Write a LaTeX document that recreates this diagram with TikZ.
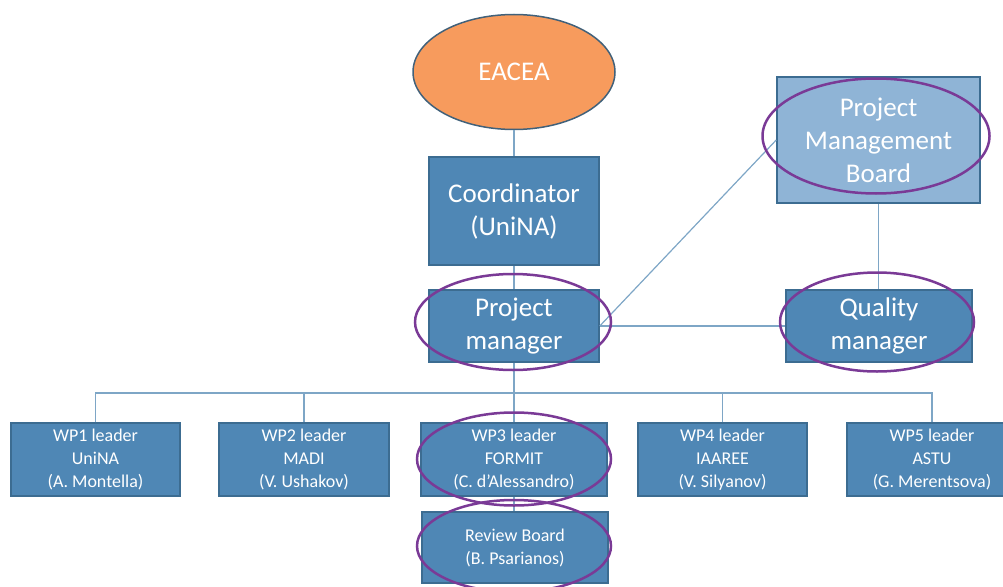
\documentclass[tikz,border=0pt]{standalone}
\usepackage{fontspec}
\setmainfont{Carlito}
\usetikzlibrary{shapes.geometric}
\definecolor{boxfill}{HTML}{4F87B5}
\definecolor{boxedge}{HTML}{3C6C91}
\definecolor{lightfill}{HTML}{8FB4D6}
\definecolor{orangefill}{HTML}{F79B5D}
\definecolor{ovaledge}{HTML}{41617A}
\definecolor{linkcol}{HTML}{7EA6C6}
\definecolor{ringcol}{HTML}{7A3A96}
\begin{document}
\begin{tikzpicture}[x=1pt,y=-1pt,
  bigtext/.style={font=\fontsize{27}{33}\selectfont},
  smalltext/.style={font=\fontsize{18}{23}\selectfont},
  unit/.style={rectangle,draw=boxedge,line width=1.5pt,fill=boxfill,text=white,
    align=center,inner sep=0pt},
  agency/.style={ellipse,draw=ovaledge,line width=1.5pt,fill=orangefill,text=white,
    inner sep=0pt,minimum width=202pt,minimum height=115pt},
  ring/.style={ellipse,draw=ringcol,line width=2.5pt,inner sep=0pt},
  link/.style={draw=linkcol,line width=1.2pt}]
\useasboundingbox (0,0) rectangle (1003,586);

% top of the hierarchy
\node[agency,bigtext] (eacea) at (514,72) {EACEA};
\node[unit,bigtext,minimum width=170pt,minimum height=108pt] (coord) at (514,211) {Coordinator\\(UniNA)};
\node[unit,bigtext,minimum width=170pt,minimum height=72pt] (pm) at (514,326) {Project\\manager};
\node[unit,bigtext,fill=lightfill,minimum width=203pt,minimum height=126pt] (pmb) at (878.5,140) {Project\\Management\\Board};
\node[unit,bigtext,minimum width=186pt,minimum height=72pt] (qm) at (879,326) {Quality\\manager};

% work package leaders
\node[unit,smalltext,minimum width=169pt,minimum height=73pt] (wp1) at (95.5,459.5) {WP1 leader\\UniNA\\(A. Montella)};
\node[unit,smalltext,minimum width=170pt,minimum height=73pt] (wp2) at (304,459.5) {WP2 leader\\MADI\\(V. Ushakov)};
\node[unit,smalltext,minimum width=186pt,minimum height=73pt] (wp3) at (514,459.5) {WP3 leader\\FORMIT\\(C. d’Alessandro)};
\node[unit,smalltext,minimum width=169pt,minimum height=73pt] (wp4) at (722.5,459.5) {WP4 leader\\IAAREE\\(V. Silyanov)};
\node[unit,smalltext,minimum width=170pt,minimum height=73pt] (wp5) at (932,459.5) {WP5 leader\\ASTU\\(G. Merentsova)};
\node[unit,smalltext,minimum width=186pt,minimum height=71pt] (rb) at (515,547.5) {Review Board\\(B. Psarianos)};

% connectors
\coordinate (bus) at (514,393);
\draw[link] (eacea.south) -- (coord.north);
\draw[link] (coord.south) -- (pm.north);
\draw[link] (pm.south) -- (bus);
\draw[link] (wp1.north) |- (bus);
\draw[link] (wp2.north) |- (bus);
\draw[link] (wp4.north) |- (bus);
\draw[link] (wp5.north) |- (bus);
\draw[link] (wp3.north) -- (bus);
\draw[link] (wp3.south) -- (wp3.south |- rb.north);
\draw[link] (pm.east) -- (qm.west);
\draw[link] (pm.east) -- (pmb.west);
\draw[link] (pmb.south) -- (pmb.south |- qm.north);

% highlighted roles
\node[ring,minimum width=196pt,minimum height=96pt] (pmring) at (513,322) {};
\node[ring,minimum width=227pt,minimum height=115pt] (pmbring) at (876,136) {};
\node[ring,minimum width=194pt,minimum height=99pt] (qmring) at (877,322) {};
\node[ring,minimum width=194pt,minimum height=93pt] (wp3ring) at (514,459) {};
\node[ring,minimum width=194pt,minimum height=92pt] (rbring) at (514,546) {};
\end{tikzpicture}
\end{document}
